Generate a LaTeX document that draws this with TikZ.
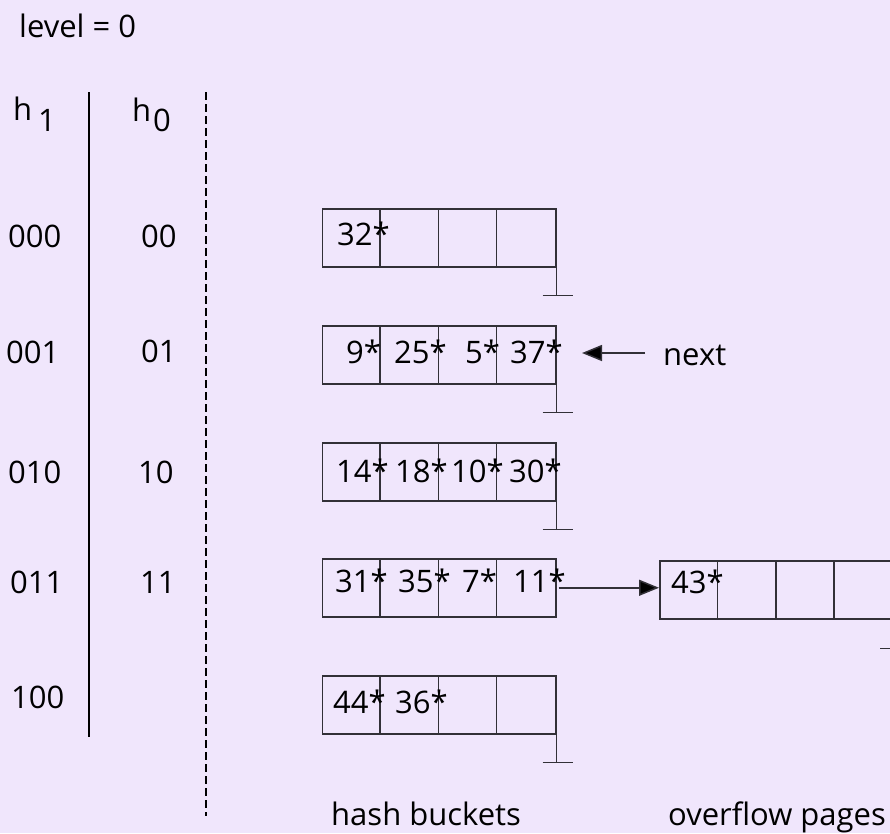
\documentclass[tikz,border=0pt]{standalone}
\usepackage{fontspec}
\setmainfont{Open Sans}
\usetikzlibrary{arrows.meta,calc}
\definecolor{bgc}{RGB}{240,230,252}
\definecolor{lnc}{RGB}{50,48,55}
\begin{document}
\begin{tikzpicture}[x=1pt,y=-1pt,
  txt/.style={inner sep=0pt,anchor=base west,font=\fontsize{31}{36}\selectfont,text=black},
  bucket/.style={draw=lnc,line width=1.5pt,minimum width=233.5pt,minimum height=58pt,inner sep=0pt,anchor=north west},
  cellline/.style={draw=lnc,line width=1.5pt},
  arr/.style={draw=lnc,line width=1.5pt,-{Triangle[length=20pt,width=16pt,fill=black]}}]
\fill[bgc] (0,0) rectangle (890,833);
\useasboundingbox (0,0) rectangle (890,833);
\clip (0,0) rectangle (890,833);
% header
\node[txt] (lvl) at (19,37) {level = 0};
\node[txt] (h1h) at (13,120) {h};
\node[txt] (h1s) at (38,131) {1};
\node[txt] (h0h) at (132,121) {h};
\node[txt] (h0s) at (153,131) {0};
% separators
\coordinate (sepA) at (89,92);
\coordinate (sepB) at (89,737);
\draw[black,line width=1.4pt] (sepA) -- (sepB);
\coordinate (dshA) at (205.5,92);
\coordinate (dshB) at (205.5,816);
\draw[black,line width=2pt,dash pattern=on 7.5pt off 4.5pt] (dshA) -- (dshB);
% h1 labels
\node[txt] (a0) at (8,247) {000};
\node[txt] (a1) at (6,363) {001};
\node[txt] (a2) at (8,483) {010};
\node[txt] (a3) at (10,593) {011};
\node[txt] (a4) at (11,708) {100};
% h0 labels
\node[txt] (c0) at (141,247) {00};
\node[txt] (c1) at (141,362) {01};
\node[txt] (c2) at (138,483) {10};
\node[txt] (c3) at (140,593) {11};
% buckets
\foreach \n/\y in {b1/208,b2/325,b3/442,b4/558,b5/675}{
  \node[bucket] (\n) at (321.5,\y) {};
  \foreach \k in {1,2,3}{
    \draw[cellline] ($(\n.north west)+(\k*58.4,0)$) -- ($(\n.south west)+(\k*58.4,0)$);
  }
}
\foreach \n in {b1,b2,b3,b5}{
  \coordinate (\n t) at ($(\n.south east)+(0,28)$);
  \draw[cellline] (\n.south east) -- (\n t);
  \draw[cellline] ($(\n t)+(-14,0)$) -- ($(\n t)+(16,0)$);
}
% overflow page
\node[bucket] (ov) at (659,560) {};
\foreach \k in {1,2,3}{
  \draw[cellline] ($(ov.north west)+(\k*58.4,0)$) -- ($(ov.south west)+(\k*58.4,0)$);
}
\coordinate (ovt) at ($(ov.south east)+(0,29)$);
\draw[cellline] (ov.south east) -- (ovt);
\draw[cellline] ($(ovt)+(-14,0)$) -- ($(ovt)+(16,0)$);
% entries
\node[txt] (e11) at (337,245) {32*};
\node[txt] (e21) at (346,363) {9*};
\node[txt] (e22) at (394,363) {25*};
\node[txt] (e23) at (465,363) {5*};
\node[txt] (e24) at (510,363) {37*};
\node[txt] (e31) at (336,482) {14*};
\node[txt] (e32) at (395,482) {18*};
\node[txt] (e33) at (451,482) {10*};
\node[txt] (e34) at (509,482) {30*};
\node[txt] (e41) at (335,592) {31*};
\node[txt] (e42) at (398,592) {35*};
\node[txt] (e43) at (462,592) {7*};
\node[txt] (e44) at (513,592) {11*};
\node[txt] (e51) at (333,713) {44*};
\node[txt] (e52) at (395,713) {36*};
\node[txt] (o1) at (671,593) {43*};
% arrows
\coordinate (ovs) at ($(b4.east)+(2,0)$);
\draw[arr] (ovs) -- (ovs -| ov.west);
\node[txt] (nxt) at (663,365) {next};
\coordinate (nt) at (645,353);
\coordinate (nh) at (582,353);
\draw[arr] (nt) -- (nh);
% captions
\node[txt] (hb) at (331,825) {hash buckets};
\node[txt] (op) at (668,825) {overflow pages};
\end{tikzpicture}
\end{document}
